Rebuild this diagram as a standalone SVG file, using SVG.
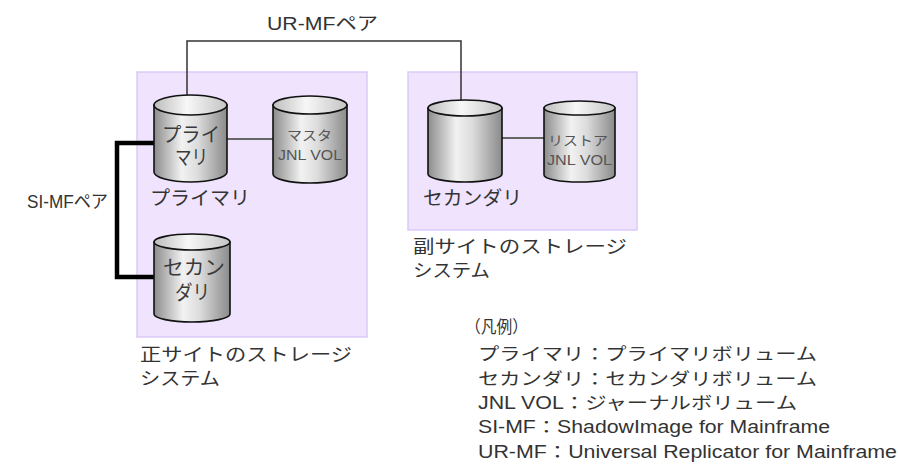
<svg xmlns="http://www.w3.org/2000/svg" width="898" height="475" viewBox="0 0 898 475">
<style>
.site{fill:#efe3fd;stroke:#dccaf7;stroke-width:1.5}
.body{fill:url(#cylBody);stroke:#111;stroke-width:1.6}
.top{fill:url(#cylTop);stroke:#111;stroke-width:1.6}
text{font-family:'Liberation Sans','Noto Sans CJK JP',sans-serif;fill:#333}
.in{fill:#3a3a3a}
.small{fill:#555}
.conn{fill:none;stroke:#333;stroke-width:1.5}
.jnl{fill:none;stroke:#666;stroke-width:2.2}
.si{fill:none;stroke:#000;stroke-width:4.5}
</style>
<defs>
<linearGradient id="cylBody" x1="0" y1="0" x2="1" y2="0">
<stop offset="0" stop-color="#8c8c8c"/>
<stop offset="0.38" stop-color="#f2f2f2"/>
<stop offset="0.6" stop-color="#dcdcdc"/>
<stop offset="1" stop-color="#8a8a8a"/>
</linearGradient>
<linearGradient id="cylTop" x1="0" y1="0" x2="1" y2="0">
<stop offset="0" stop-color="#bdbdbd"/>
<stop offset="0.45" stop-color="#f7f7f7"/>
<stop offset="1" stop-color="#c4c4c4"/>
</linearGradient>
</defs>

<g id="site-primary">
<rect class="site" x="137" y="72" width="230" height="265"/>
<text x="140" y="361" font-size="18" textLength="212" lengthAdjust="spacingAndGlyphs">正サイトのストレージ</text>
<text x="140" y="385" font-size="18" textLength="80" lengthAdjust="spacingAndGlyphs">システム</text>
</g>

<g id="site-secondary">
<rect class="site" x="408" y="72" width="229" height="158"/>
<text x="413" y="253" font-size="18" textLength="214" lengthAdjust="spacingAndGlyphs">副サイトのストレージ</text>
<text x="413" y="277" font-size="18" textLength="77" lengthAdjust="spacingAndGlyphs">システム</text>
</g>

<g id="connectors">
<path class="conn" d="M187,96 V41 H461 V101"/>
<text x="267" y="30" font-size="18" textLength="111" lengthAdjust="spacingAndGlyphs">UR-MFペア</text>
<path class="jnl" d="M227,139 H273"/>
<path class="jnl" d="M502,138 H544"/>
<path class="si" d="M154,143 H117 V277 H154"/>
<text x="27" y="208" font-size="18" textLength="81" lengthAdjust="spacingAndGlyphs">SI-MFペア</text>
</g>

<g id="vol-primary">
<path class="body" d="M154,105 V172 A36.5,10 0 0 0 227,172 V105 Z"/>
<ellipse class="top" cx="190.5" cy="105" rx="36.5" ry="10"/>
<text class="in" x="162" y="142" font-size="20" textLength="58" lengthAdjust="spacingAndGlyphs">プライ</text>
<text class="in" x="175" y="165" font-size="20" textLength="33" lengthAdjust="spacingAndGlyphs">マリ</text>
<text x="150" y="205" font-size="19" textLength="100" lengthAdjust="spacingAndGlyphs">プライマリ</text>
</g>

<g id="vol-master-jnl">
<path class="body" d="M273,105 V174 A37,9 0 0 0 347,174 V105 Z"/>
<ellipse class="top" cx="310" cy="105" rx="37" ry="9"/>
<text class="small" x="287" y="140" font-size="13" textLength="45" lengthAdjust="spacingAndGlyphs">マスタ</text>
<text class="small" x="278" y="160" font-size="14" textLength="64" lengthAdjust="spacingAndGlyphs">JNL VOL</text>
</g>

<g id="vol-secondary-si">
<path class="body" d="M154,242 V314 A38,8 0 0 0 230,314 V242 Z"/>
<ellipse class="top" cx="192" cy="242" rx="38" ry="8"/>
<text class="in" x="163" y="275" font-size="20" textLength="62" lengthAdjust="spacingAndGlyphs">セカン</text>
<text class="in" x="175" y="300" font-size="20" textLength="35" lengthAdjust="spacingAndGlyphs">ダリ</text>
</g>

<g id="vol-secondary-ur">
<path class="body" d="M428,108 V174 A37,8 0 0 0 502,174 V108 Z"/>
<ellipse class="top" cx="465" cy="108" rx="37" ry="8"/>
<text x="423" y="205" font-size="19" textLength="99" lengthAdjust="spacingAndGlyphs">セカンダリ</text>
</g>

<g id="vol-restore-jnl">
<path class="body" d="M544,108 V175 A35.5,7 0 0 0 615,175 V108 Z"/>
<ellipse class="top" cx="579.5" cy="108" rx="35.5" ry="7"/>
<text class="small" x="548" y="145" font-size="13" textLength="60" lengthAdjust="spacingAndGlyphs">リストア</text>
<text class="small" x="547" y="165" font-size="14" textLength="65" lengthAdjust="spacingAndGlyphs">JNL VOL</text>
</g>

<g id="legend">
<text x="465" y="333" font-size="17" textLength="63" lengthAdjust="spacingAndGlyphs">（凡例）</text>
<text x="478" y="360" font-size="17.5" textLength="339" lengthAdjust="spacingAndGlyphs">プライマリ：プライマリボリューム</text>
<text x="478" y="385" font-size="17.5" textLength="339" lengthAdjust="spacingAndGlyphs">セカンダリ：セカンダリボリューム</text>
<text x="478" y="409" font-size="17.5" textLength="319" lengthAdjust="spacingAndGlyphs">JNL VOL：ジャーナルボリューム</text>
<text x="478" y="433" font-size="17.5" textLength="352" lengthAdjust="spacingAndGlyphs">SI-MF：ShadowImage for Mainframe</text>
<text x="478" y="458" font-size="17.5" textLength="419" lengthAdjust="spacingAndGlyphs">UR-MF：Universal Replicator for Mainframe</text>
</g>
</svg>
